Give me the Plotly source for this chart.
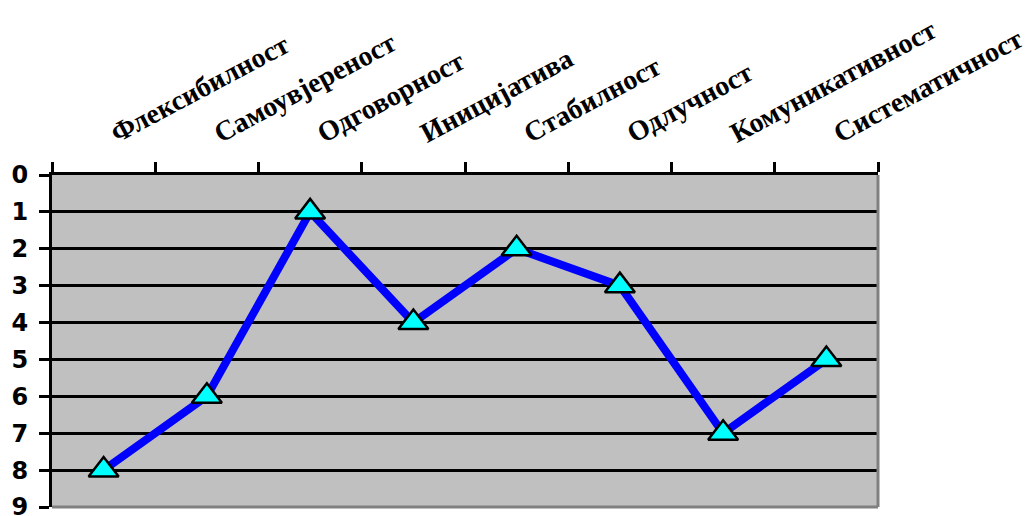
import plotly.graph_objects as go

categories = ["Флексибилност", "Самоувјереност", "Одговорност", "Иницијатива",
              "Стабилност", "Одлучност", "Комуникативност", "Систематичност"]
values = [8, 6, 1, 4, 2, 3, 7, 5]
y_ticks = list(range(0, 10))

fig = go.Figure()
fig.add_trace(go.Scatter(
    x=categories, y=values, mode="lines+markers",
    line=dict(color="#0000FF", width=8),
    marker=dict(symbol="triangle-up", size=26, color="#00FFFF",
                line=dict(color="black", width=2.5)),
    showlegend=False,
))

fig.update_layout(
    width=1028, height=516,
    margin=dict(l=52, r=150, t=175, b=9, pad=0),
    plot_bgcolor="#C0C0C0", paper_bgcolor="white",
    xaxis=dict(
        side="top", type="category", range=[-0.5, 7.5], automargin=False,
        tickangle=-28, tickson="boundaries", ticks="outside", ticklen=10,
        tickwidth=3, tickcolor="black",
        showline=True, linecolor="black", linewidth=3,
        showgrid=False, ticklabelstandoff=16, ticklabelshift=7,
        tickfont=dict(family="Liberation Serif", size=28, color="black", weight="bold"),
    ),
    yaxis=dict(
        autorange=False, range=[9, 0], automargin=False,
        tickvals=y_ticks, ticktext=[str(v) for v in y_ticks],
        ticks="outside", ticklen=10, tickwidth=3, tickcolor="black",
        showline=True, linecolor="black", linewidth=3,
        showgrid=True, gridcolor="black", gridwidth=3,
        zeroline=False, ticklabeloverflow="allow",
        tickfont=dict(family="DejaVu Sans", size=24, color="black", weight="bold"),
        ticklabelstandoff=6,
    ),
    shapes=[
        dict(type="line", xref="paper", yref="paper", x0=0, x1=1, y0=0, y1=0,
             line=dict(color="#808080", width=3)),
        dict(type="line", xref="paper", yref="paper", x0=1, x1=1, y0=0, y1=1,
             line=dict(color="#808080", width=3)),
    ],
)

fig.write_html("out.html")
